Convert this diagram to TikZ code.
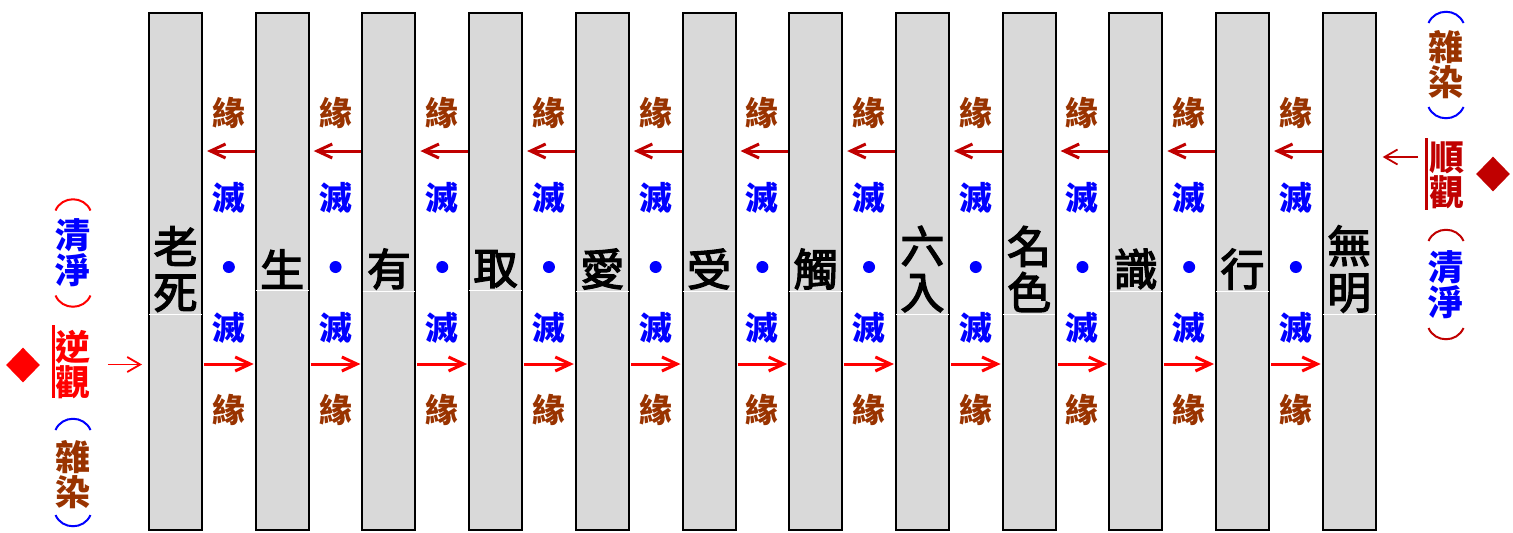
\documentclass[tikz,border=0pt]{standalone}
\usepackage{fontspec}
\newfontfamily\cjk{Noto Sans CJK TC}
\newfontfamily\cjkf{Noto Sans CJK TC}[FakeBold=3]
\usetikzlibrary{arrows.meta,shapes.geometric}
\definecolor{boxgray}{HTML}{D9D9D9}
\definecolor{brn}{HTML}{993300}
\definecolor{dred}{HTML}{C00000}
\definecolor{blu}{HTML}{0000FF}
\definecolor{rd}{HTML}{FF0000}
\newcommand{\popen}[3]{\draw[parline,#3] ({#1-17.5},{#2+6}) .. controls ({#1-11},{#2-9}) and ({#1+11},{#2-9}) .. ({#1+17.5},{#2+6});}
\newcommand{\pclose}[3]{\draw[parline,#3] ({#1-17.5},{#2-6}) .. controls ({#1-11},{#2+9}) and ({#1+11},{#2+9}) .. ({#1+17.5},{#2-6});}
\begin{document}
\begin{tikzpicture}[x=0.5pt,y=-0.5pt,
  box/.style={draw=black,line width=1pt,fill=boxgray,minimum width=26.5pt,minimum height=258.5pt,inner sep=0pt},
  lbl/.style={font=\cjkf\fontsize{22pt}{23pt}\selectfont,align=center,inner sep=0pt},
  gch/.style={font=\cjk\bfseries\fontsize{16.5pt}{17pt}\selectfont,inner sep=0pt},
  sch/.style={font=\cjk\bfseries\fontsize{17.5pt}{17.5pt}\selectfont,align=center,inner sep=0pt},
  parline/.style={line width=1pt},
  larr/.style={draw=dred,line width=1.5pt,-{Straight Barb[length=7.5pt,width=7pt]}},
  rarr/.style={draw=rd,line width=1.5pt,-{Straight Barb[length=7.5pt,width=7pt]}},
  sarr/.style={line width=0.9pt,-{Straight Barb[length=6.5pt,width=7.5pt]}},
  sepline/.style={draw=white,line width=0.5pt},
  dotn/.style={circle,fill=blu,minimum size=6pt,inner sep=0pt},
  dia/.style={diamond,minimum width=17pt,minimum height=17.5pt,inner sep=0pt},
  vbar/.style={line width=1.5pt}]
\useasboundingbox (0,0) rectangle (1513,532);
\coordinate (ty) at (0,269);
\coordinate (yU) at (0,151);
\coordinate (yD) at (0,364);
\foreach \t [count=\i from 0] in {{老\\死},生,有,取,愛,受,觸,{六\\入},{名\\色},識,行,{無\\明}} {
  \node[box] (b\i) at ({175.5+106.7*\i},271.5) {};
  \node[lbl] (t\i) at (b\i |- ty) {\t};
  \draw[sepline] ([xshift=0.6pt,yshift=-1pt]b\i.west |- t\i.south) -- ([xshift=-0.6pt,yshift=-1pt]b\i.east |- t\i.south);
}
\foreach \i in {0,...,10} {
  \pgfmathtruncatemacro\j{\i+1}
  \pgfmathsetmacro\gx{175.5+106.7*\i+53.35}
  \node[gch,text=brn] (u\i) at (\gx,113) {緣};
  \node[gch,text=blu] (m\i) at (\gx,198) {滅};
  \node[dotn] (d\i) at (\gx,267) {};
  \node[gch,text=blu] (n\i) at (\gx,328) {滅};
  \node[gch,text=brn] (w\i) at (\gx,410) {緣};
  \draw[larr] (b\j.west |- yU) -- ([xshift=2pt]b\i.east |- yU);
  \draw[rarr] ([xshift=0.5pt]b\i.east |- yD) -- ([xshift=-0.5pt]b\j.west |- yD);
}
% left side
\popen{73}{204.5}{rd}
\node[sch,text=blu] (qL) at (73,252.5) {清\\淨};
\pclose{73}{301.5}{rd}
\node[sch,text=rd] (nL) at (73,364.5) {逆\\觀};
\popen{73}{424}{blu}
\node[sch,text=brn] (zL) at (73,475) {雜\\染};
\pclose{73}{521}{blu}
\node[dia,fill=rd] (dL) at (23,365) {};
\draw[vbar,rd] (53,325) -- (53,398);
\draw[sarr,rd] ([xshift=8.5pt]nL.east) -- ([xshift=-3pt]b0.west |- nL.east);
% right side
\popen{1446}{17}{blu}
\node[sch,text=brn] (zR) at (1446,64.5) {雜\\染};
\pclose{1446}{113}{blu}
\node[sch,text=dred] (nR) at (1447,175) {順\\觀};
\popen{1446}{235}{dred}
\node[sch,text=blu] (qR) at (1446,285) {清\\淨};
\pclose{1446}{334}{dred}
\node[dia,fill=dred] (dR) at (1493,174) {};
\draw[vbar,dred] (1426,138) -- (1426,210);
\draw[sarr,dred] ([xshift=-5.5pt,yshift=9pt]nR.west) -- ([xshift=3pt,yshift=9pt]b11.east |- nR.west);
\end{tikzpicture}
\end{document}
